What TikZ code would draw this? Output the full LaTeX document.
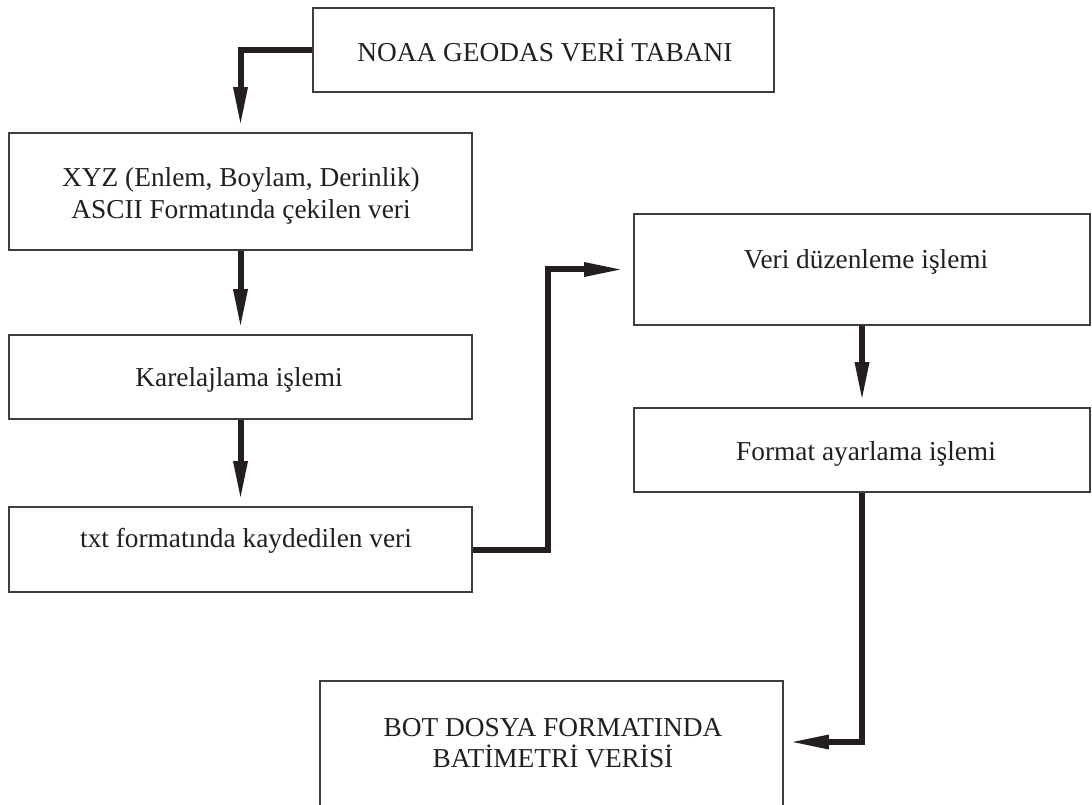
\documentclass[tikz,border=0pt]{standalone}
\usepackage{fontspec}
\setmainfont{Liberation Serif}
\usetikzlibrary{arrows.meta}
\definecolor{ink}{HTML}{231F20}
\definecolor{frame}{HTML}{3D3D3D}
\begin{document}
\begin{tikzpicture}[x=0.75pt,y=-0.75pt,
  box/.style={draw=frame,line width=1.3pt,rectangle,inner sep=0pt},
  lbl/.style={text=ink,font=\fontsize{20.5}{23.5}\selectfont,align=center,inner sep=0pt},
  conn/.style={draw=ink,line width=4.5pt,line join=miter,
    -{Triangle[length=30pt,width=9.75pt]},shorten >=3.75pt}]
\useasboundingbox (0,0) rectangle (1092,805);
\clip (0,0) rectangle (1092,805);
\fill[white] (0,0) rectangle (1092,805);

% process boxes
\node[box,minimum width=345.75pt,minimum height=63pt]    (noaa)   at (543.5,50)  {};
\node[box,minimum width=347.25pt,minimum height=87.75pt] (xyz)    at (240.5,191.5) {};
\node[box,minimum width=347.25pt,minimum height=63pt]    (karel)  at (240.5,377) {};
\node[box,minimum width=347.25pt,minimum height=63.75pt] (txt)    at (240.5,549.5) {};
\node[box,minimum width=342pt,minimum height=83.25pt]    (veri)   at (862,269.5) {};
\node[box,minimum width=342pt,minimum height=63pt]       (format) at (862,450) {};
\node[box,minimum width=347.25pt,minimum height=97.5pt]  (bot)    at (551.5,746) {};

% box texts
\node[lbl] (noaa-t)   at (545,50)  {NOAA GEODAS VERİ TABANI};
\node[lbl] (xyz-t)    at (241,196) {XYZ (Enlem, Boylam, Derinlik)\\ASCII Formatında çekilen veri};
\node[lbl] (karel-t)  at (239,380) {Karelajlama işlemi};
\node[lbl] (txt-t)    at (246,541) {txt formatında kaydedilen veri};
\node[lbl] (veri-t)   at (866,262) {Veri düzenleme işlemi};
\node[lbl] (format-t) at (866,454) {Format ayarlama işlemi};
\node[lbl] (bot-t)    at (553,743) {BOT DOSYA FORMATINDA\\BATİMETRİ VERİSİ};

% flow connectors
\draw[conn] (noaa.west) -| (xyz.north);
\draw[conn] (xyz.south) -- (karel.north);
\draw[conn] (karel.south) -- (txt.north);
\draw[conn,shorten >=6.75pt] (txt.east) -- ++(75,0) |- (veri.west);
\draw[conn] (veri.south) -- (format.north);
\draw[conn] (format.south) |- ([yshift=3pt]bot.east);
\end{tikzpicture}
\end{document}
